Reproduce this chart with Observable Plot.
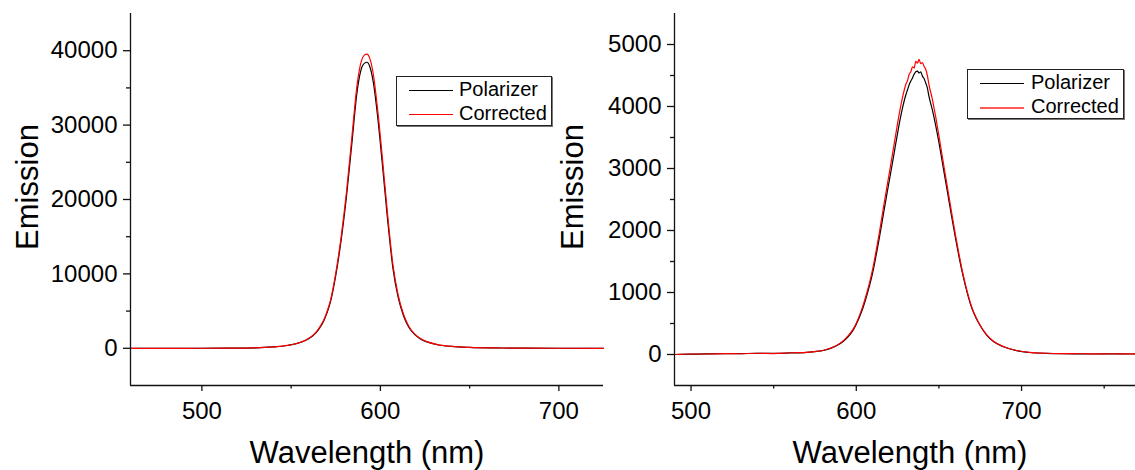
<!DOCTYPE html>
<html>
<head>
<meta charset="utf-8">
<script src="https://cdn.jsdelivr.net/npm/d3@7"></script>
<script src="https://cdn.jsdelivr.net/npm/@observablehq/plot@0.6"></script>
<style>
  html, body { margin: 0; padding: 0; background: #fff; overflow: hidden; }
  #wrap { position: relative; width: 1135px; height: 470px; overflow: hidden; font-family: Arial, "Liberation Sans", sans-serif; }
  #wrap svg { position: absolute; top: 0; }
  .legend { position: absolute; box-sizing: border-box; border: 1px solid #222; box-shadow: 1px 1px 0 #777; background: #fff; font-size: 20px; color: #000; }
  .legend .row { position: absolute; left: 0; height: 0; }
  .legend .sw { position: absolute; left: 12px; width: 44px; }
  .legend .lbl { position: absolute; white-space: nowrap; line-height: 20px; top: -11px; }
</style>
</head>
<body>
<div id="wrap"></div>
<script>
// ---------- data ----------
const seriesNames = ["Polarizer", "Corrected"];
const seriesColors = ["#000000", "#ff0000"];

const leftWavelength = [460, 480, 500, 520, 530, 540, 548, 553, 558, 562, 564, 566, 568, 570, 572, 575, 578, 581, 584, 587, 589, 591, 592.5, 594, 596, 598.5, 601, 604, 607, 610, 613, 616, 619, 622, 626, 632, 640, 650, 665, 680, 700, 725];
const leftPolarizer = [0, 0, 10, 30, 60, 180, 380, 620, 1050, 1650, 2100, 2750, 3550, 4700, 6200, 9800, 14500, 20400, 27500, 34600, 37300, 38300, 38450, 37900, 35800, 31060, 25000, 17400, 10800, 6800, 4350, 2800, 1900, 1330, 860, 480, 250, 120, 50, 20, 10, 0];
const leftCorrected = [0, 0, 10, 30, 60, 185, 390, 640, 1080, 1700, 2170, 2840, 3660, 4850, 6400, 10100, 14950, 21000, 28300, 35500, 38300, 39400, 39550, 39000, 36900, 32000, 25900, 18100, 11300, 7100, 4550, 2930, 1980, 1380, 890, 500, 260, 125, 52, 20, 10, 0];

const rightWavelength = [490, 500, 510, 520, 530, 540, 550, 560, 570, 576, 580, 584, 588, 592, 595, 598, 600, 602, 604, 606, 608, 610, 612, 614, 616, 618, 620, 622, 624, 626, 628, 630, 631, 632, 633, 634, 635, 636, 637, 638, 639, 640, 641, 642, 643, 644, 646, 648, 650, 652, 654, 656, 658, 660, 662, 664, 666, 668, 670, 673, 676, 679, 683, 689, 697, 705, 715, 725, 735, 745, 755, 765, 770];
const rightPolarizer = [0, 5, 10, 12, 15, 18, 18, 25, 35, 50, 65, 95, 140, 210, 285, 390, 490, 610, 750, 920, 1110, 1330, 1600, 1890, 2200, 2510, 2810, 3110, 3420, 3720, 3980, 4190, 4270, 4350, 4410, 4460, 4520, 4560, 4570, 4540, 4560, 4490, 4450, 4380, 4300, 4160, 3950, 3700, 3420, 3110, 2800, 2490, 2180, 1880, 1600, 1340, 1110, 910, 740, 560, 420, 310, 210, 125, 62, 32, 18, 12, 10, 8, 10, 8, 8];
const rightCorrected = [0, 8, 8, 15, 12, 20, 15, 28, 35, 52, 68, 100, 145, 220, 300, 405, 505, 635, 785, 960, 1160, 1390, 1670, 1970, 2300, 2620, 2930, 3250, 3570, 3880, 4150, 4360, 4420, 4520, 4560, 4640, 4620, 4730, 4700, 4760, 4690, 4710, 4650, 4600, 4500, 4350, 4120, 3840, 3530, 3200, 2880, 2560, 2240, 1930, 1640, 1370, 1135, 930, 755, 570, 428, 316, 214, 128, 64, 33, 20, 14, 12, 10, 12, 10, 12];

const xTicks = [500, 600, 700];
const leftXMinor = [550, 650];
const rightXMinor = [550, 650, 750];
const leftYTicks = [0, 10000, 20000, 30000, 40000];
const leftYMinor = [5000, 15000, 25000, 35000];
const rightYTicks = [0, 1000, 2000, 3000, 4000, 5000];
const rightYMinor = [500, 1500, 2500, 3500, 4500];

const xLabel = "Wavelength (nm)";
const yLabel = "Emission";

// ---------- build ----------
function rows(wl, a, b) {
  const out = [];
  wl.forEach((w, i) => out.push({wl: w, value: a[i], series: seriesNames[0]}));
  wl.forEach((w, i) => out.push({wl: w, value: b[i], series: seriesNames[1]}));
  return out;
}

const FONT = 'Arial, "Liberation Sans", sans-serif';
const AX = "#111";

function panel(cfg) {
  return Plot.plot({
    width: cfg.width,
    height: 470,
    marginLeft: cfg.marginLeft,
    marginRight: cfg.marginRight,
    marginTop: 13,
    marginBottom: 85,
    style: {background: "transparent", fontFamily: FONT, fontSize: "24px", color: "#000", overflow: "visible"},
    x: {domain: cfg.xDomain},
    y: {domain: cfg.yDomain},
    color: {domain: seriesNames, range: seriesColors},
    marks: [
      Plot.line(cfg.data, {x: "wl", y: "value", z: "series", stroke: "series", strokeWidth: 1.2, curve: "monotone-x"}),
      Plot.ruleX([cfg.xDomain[0]], {stroke: AX, strokeWidth: 1.3}),
      Plot.ruleY([cfg.yDomain[0]], {stroke: AX, strokeWidth: 1.3}),
      Plot.axisX(xTicks, {tickSize: 6, tickPadding: 10, label: null, tickFormat: d => String(d), stroke: AX, strokeWidth: 1.3}),
      Plot.axisX(cfg.xMinor, {tickSize: 3.5, label: null, tickFormat: () => "", stroke: AX, strokeWidth: 1.3}),
      Plot.axisY(cfg.yTicks, {tickSize: 7, tickPadding: 6, label: null, tickFormat: d => String(d), stroke: AX, strokeWidth: 1.3}),
      Plot.axisY(cfg.yMinor, {tickSize: 4, label: null, tickFormat: () => "", stroke: AX, strokeWidth: 1.3}),
      Plot.text([yLabel], {frameAnchor: "left", dx: cfg.yLabelDx, dy: -12.5, rotate: -90, textAnchor: "middle", lineAnchor: "bottom", fontSize: 31, fill: "#000"}),
      Plot.text([xLabel], {frameAnchor: "bottom", dy: 77, textAnchor: "middle", lineAnchor: "bottom", fontSize: 31, fill: "#000"})
    ]
  });
}

const wrap = document.getElementById("wrap");

const left = panel({
  width: 640, marginLeft: 130, marginRight: 37,
  xDomain: [460, 725], yDomain: [-5000, 45000],
  data: rows(leftWavelength, leftPolarizer, leftCorrected),
  xMinor: leftXMinor, yTicks: leftYTicks, yMinor: leftYMinor,
  yLabelDx: 37 - 130
});
left.style.left = "0px";
wrap.appendChild(left);

const right = panel({
  width: 605, marginLeft: 134, marginRight: 0,
  xDomain: [490, 775], yDomain: [-500, 5500],
  data: rows(rightWavelength, rightPolarizer, rightCorrected),
  xMinor: rightXMinor, yTicks: rightYTicks, yMinor: rightYMinor,
  yLabelDx: 42 - 134
});
right.style.left = "540px";
wrap.appendChild(right);

// ---------- legends ----------
function legend(box, rowYs, textX, colors, widths) {
  const d = document.createElement("div");
  d.className = "legend";
  d.style.left = box.left + "px";
  d.style.top = box.top + "px";
  d.style.width = box.width + "px";
  d.style.height = box.height + "px";
  seriesNames.forEach((name, i) => {
    const r = document.createElement("div");
    r.className = "row";
    r.style.top = rowYs[i] + "px";
    const sw = document.createElement("div");
    sw.className = "sw";
    sw.style.height = widths[i] + "px";
    sw.style.background = colors[i];
    sw.style.top = "0px";
    const t = document.createElement("div");
    t.className = "lbl";
    t.style.left = textX + "px";
    t.textContent = name;
    r.appendChild(sw);
    r.appendChild(t);
    d.appendChild(r);
  });
  wrap.appendChild(d);
}
legend({left: 396, top: 76, width: 156, height: 50}, [13, 37], 62, seriesColors, [1, 1]);
legend({left: 967, top: 69, width: 157, height: 50}, [13, 37], 63, ["#000000", "#ff5a5a"], [1, 2]);
</script>
</body>
</html>
